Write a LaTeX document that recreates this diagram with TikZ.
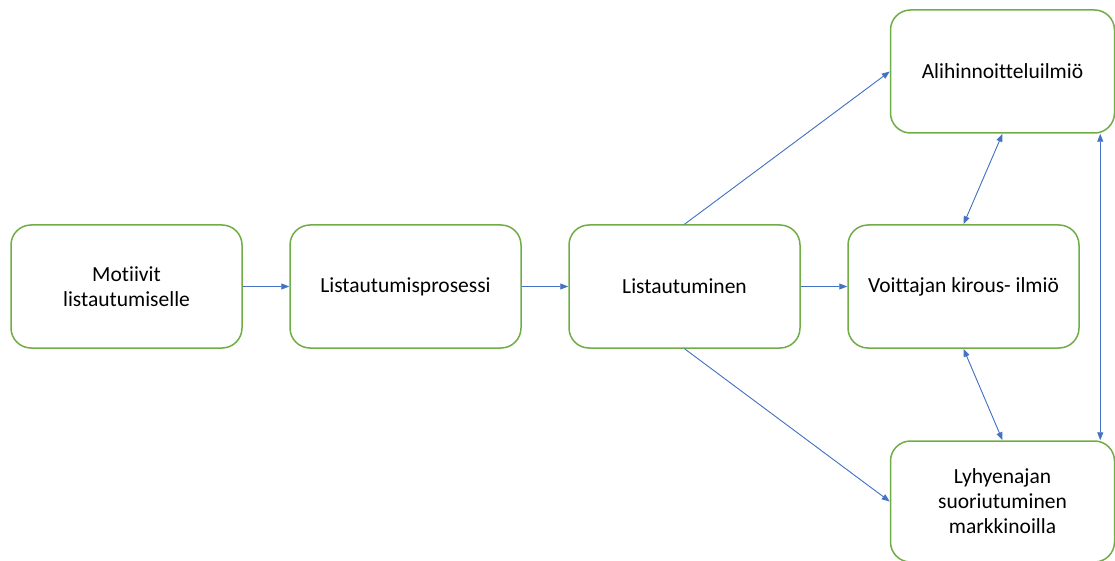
\documentclass[tikz,border=0pt]{standalone}
\usepackage{fontspec}
\setmainfont{Carlito}[Ligatures=NoCommon]
\usetikzlibrary{arrows.meta,positioning}
\definecolor{boxgreen}{HTML}{70AD47}
\definecolor{arrblue}{HTML}{4472C4}

\begin{document}
\begin{tikzpicture}[
      x=1pt, y=-1pt,
      node distance=46.5pt,
      box/.style={draw=boxgreen, line width=1.5pt, rounded corners=20pt, align=center, fill=white,
        minimum width=231pt, minimum height=123pt, inner sep=0pt, font=\fontsize{21.5}{25}\selectfont},
      arr/.style={-{Triangle[length=8pt,width=6pt]}, draw=arrblue, fill=arrblue, line width=0.9pt},
      dbl/.style={{Triangle[length=8pt,width=6pt]}-{Triangle[length=8pt,width=6pt]}, draw=arrblue, fill=arrblue, line width=0.9pt}
    ]
      \useasboundingbox (0,0) rectangle (1115,561);
      \node[box] (mot) at (126.5,286.5) {Motiivit\\listautumiselle};
      \node[box, right=of mot] (proc) {Listautumisprosessi};
      \node[box, right=of proc] (list) {Listautuminen};
      \node[box, right=of list] (curse) {Voittajan kirous- ilmiö};
      \node[box, minimum width=224pt] (under) at (1002.5,71.5) {Alihinnoitteluilmiö};
      \node[box, minimum width=224pt, minimum height=121pt] (perf) at (1002.5,501.5) {Lyhyenajan\\suoriutuminen\\markkinoilla};
      \draw[arr] (mot) -- (proc);
      \draw[arr] (proc) -- (list);
      \draw[arr] (list) -- (curse);
      \draw[arr] (list.north) -- (under.west);
      \draw[arr] (list.south) -- (perf.west);
      \draw[dbl] (curse.north) -- (under.south);
      \draw[dbl] (curse.south) -- (perf.north);
      \draw[dbl] ([xshift=-15pt]under.south east) -- ([xshift=-15pt]perf.north east);
    \end{tikzpicture}
\end{document}
